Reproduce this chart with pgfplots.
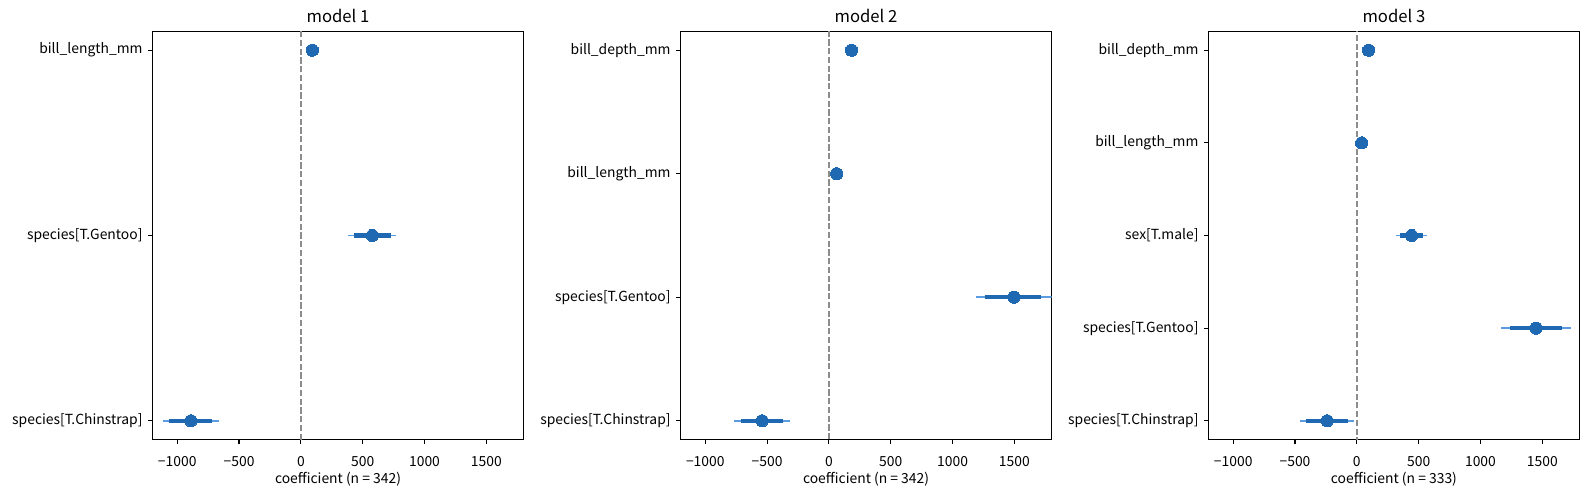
\documentclass[border=0pt]{standalone}
\usepackage{fontspec}
\setmainfont{Noto Sans CJK JP}
\usepackage{pgfplots}
\usepackage{pgfplotstable}
\pgfplotsset{compat=1.18}
\definecolor{cDark}{RGB}{31,105,178}
\definecolor{cLight}{RGB}{90,155,225}
\definecolor{cZero}{RGB}{140,140,140}

% columns: y position, coefficient, 95% CI (lo,hi), 80% CI (lo,hi)
\pgfplotstableread{
y coef lo95 hi95 lo80 hi80
2 93 75 111 81 105
1 578 385 768 429 730
0 -889 -1113 -665 -1067 -722
}\mA
\pgfplotstableread{
y coef lo95 hi95 lo80 hi80
3 183 140 226 155 211
2 63 40 86 48 78
1 1495 1190 1805 1264 1719
0 -540 -767 -318 -710 -372
}\mB
\pgfplotstableread{
y coef lo95 hi95 lo80 hi80
4 95 50 140 65 125
3 39 -11 89 6 72
2 443 320 571 345 535
1 1450 1169 1729 1242 1659
0 -240 -459 -25 -409 -70
}\mC

\pgfplotsset{
  panel/.style={
    scale only axis, width=267.1pt, height=293.5pt,
    anchor=south west,
    xmin=-1200, xmax=1800,
    xtick={-1000,-500,0,500,1000,1500},
    xticklabels={−1000,−500,0,500,1000,1500},
    tick align=outside, tick pos=left,
    major tick length=3.5pt,
    tick style={black, line width=0.8pt},
    axis line style={line width=0.8pt},
    ticklabel style={font=\fontsize{10}{12}\selectfont},
    xticklabel style={anchor=north, inner sep=0pt, yshift=-8.3pt},
    yticklabel style={anchor=east, inner sep=0pt, xshift=-3.5pt},
    xlabel={coefficient (n = 342)},
    xlabel style={font=\fontsize{10}{12}\selectfont, at={(0.5,0)}, anchor=base, yshift=-31.5pt},
    title style={font=\fontsize{12}{14}\selectfont, at={(0.5,1)}, anchor=base, yshift=0.3pt},
    clip=true,
  },
  ci95/.style={draw=none, mark=none, forget plot,
    error bars/.cd, x dir=both, x explicit, error mark=none,
    error bar style={draw=cLight, line width=1.4pt}},
  ci80/.style={draw=none, mark=none, forget plot,
    error bars/.cd, x dir=both, x explicit, error mark=none,
    error bar style={draw=cDark, line width=3.2pt}},
  pt/.style={only marks, mark=*, mark size=4.4pt,
    mark options={draw=cDark, fill=cDark, line width=0pt}, forget plot},
}

\newcommand\forest[1]{%
  \addplot[cZero, line width=1.2pt, dash pattern=on 4.4pt off 1.9pt, forget plot] coordinates {(0,-1) (0,6)};
  \addplot[ci95] table[x=coef, y=y, x error plus expr=\thisrow{hi95}-\thisrow{coef}, x error minus expr=\thisrow{coef}-\thisrow{lo95}] {#1};
  \addplot[ci80] table[x=coef, y=y, x error plus expr=\thisrow{hi80}-\thisrow{coef}, x error minus expr=\thisrow{coef}-\thisrow{lo80}] {#1};
  \addplot[pt] table[x=coef, y=y] {#1};
}

\begin{document}
\begin{tikzpicture}
\useasboundingbox (0,0) rectangle (1144.1pt,352.8pt);

\begin{axis}[panel, at={(109.8pt,36.5pt)}, title={model 1},
  ymin=-0.1, ymax=2.1, ytick={0,1,2},
  yticklabels={{species[T.Chinstrap]},{species[T.Gentoo]},{bill\_length\_mm}}]
\forest{\mA}
\end{axis}

\begin{axis}[panel, at={(490.0pt,36.5pt)}, title={model 2},
  ymin=-0.15, ymax=3.15, ytick={0,1,2,3},
  yticklabels={{species[T.Chinstrap]},{species[T.Gentoo]},{bill\_length\_mm},{bill\_depth\_mm}}]
\forest{\mB}
\end{axis}

\begin{axis}[panel, at={(870.1pt,36.5pt)}, title={model 3},
  xlabel={coefficient (n = 333)},
  ymin=-0.2, ymax=4.2, ytick={0,1,2,3,4},
  yticklabels={{species[T.Chinstrap]},{species[T.Gentoo]},{sex[T.male]},{bill\_length\_mm},{bill\_depth\_mm}}]
\forest{\mC}
\end{axis}
\end{tikzpicture}
\end{document}
